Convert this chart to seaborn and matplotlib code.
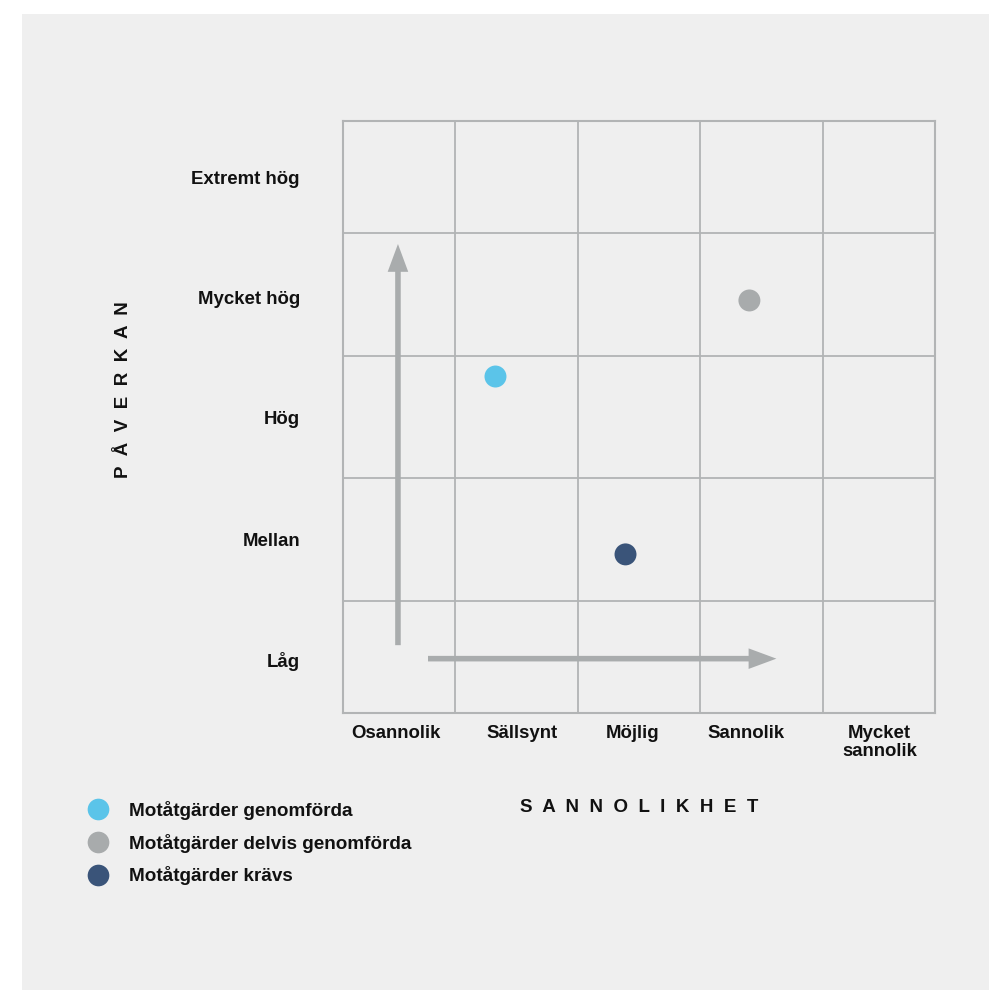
import matplotlib
matplotlib.use("Agg")
import matplotlib.pyplot as plt
from matplotlib.patches import Rectangle, FancyArrowPatch
from matplotlib.lines import Line2D
import seaborn as sns
import pandas as pd

# Risk matrix categories
likelihood = ["Osannolik", "Sällsynt", "Möjlig", "Sannolik", "Mycket\nsannolik"]
impact = ["Låg", "Mellan", "Hög", "Mycket hög", "Extremt hög"]

# Risks placed in the matrix (1 = lowest category)
risk_status = ["Motåtgärder genomförda", "Motåtgärder delvis genomförda", "Motåtgärder krävs"]
risk_likelihood = [1.83, 3.90, 2.89]
risk_impact = [3.33, 3.95, 1.88]
status_colors = ["#5bc4e9", "#a8abac", "#3a5479"]

# Where each category label sits along its axis
likelihood_label_pos = [1.02, 2.05, 2.95, 3.87, 4.96]
impact_label_pos = [1.025, 2.0, 3.0, 3.975, 4.95]

BG = "#efefef"
GRID = "#b2b4b5"
ARROW = "#a9acad"
INK = "#111111"
FS = 13.45

sns.set_theme(style="white")
plt.rcParams["font.family"] = ["Liberation Sans", "DejaVu Sans"]
plt.rcParams["font.weight"] = "bold"

W, H = 989, 990
fig = plt.figure(figsize=(W / 100, H / 100), dpi=100, facecolor="white")
fig.patches.append(Rectangle((22 / W, 0), 1, 1 - 14 / H, transform=fig.transFigure,
                             facecolor=BG, edgecolor="none", zorder=-10))

ax = fig.add_axes([343 / W, 1 - 713 / H, (935 - 343) / W, (713 - 121) / H])
ax.set_facecolor(BG)
ax.set_zorder(1)

df = pd.DataFrame({"x": risk_likelihood, "y": risk_impact, "status": risk_status})
sns.scatterplot(data=df, x="x", y="y", hue="status", palette=status_colors,
                hue_order=risk_status, s=250, linewidth=0, legend=False, ax=ax, zorder=5)

lo, hi = 0.587, 5.413
ax.set_xlim(lo, hi)
ax.set_ylim(lo, hi)

# Category labels on the majors, cell borders on the minors
ax.set_xticks(likelihood_label_pos)
ax.set_xticklabels(likelihood, fontsize=FS, fontweight="bold", color=INK,
                   linespacing=1.1)
ax.set_yticks(impact_label_pos)
ax.set_yticklabels(impact, fontsize=FS, fontweight="bold", color=INK)
ax.set_xticks([1.5, 2.5, 3.5, 4.5], minor=True)
ax.set_yticks([1.5, 2.5, 3.5, 4.5], minor=True)
ax.tick_params(which="both", length=0)
ax.tick_params(axis="x", which="major", pad=8.5)
ax.tick_params(axis="y", which="major", pad=31)
ax.grid(which="minor", color=GRID, linewidth=1.3)
ax.grid(which="major", visible=False)
for sp in ax.spines.values():
    sp.set_visible(True)
    sp.set_color(GRID)
    sp.set_linewidth(1.5)
ax.set_xlabel("")
ax.set_ylabel("")

# Direction arrows
arrow_kw = dict(arrowstyle="simple,head_length=20,head_width=14.8,tail_width=4.0",
                mutation_scale=1, color=ARROW, lw=0, shrinkA=0, shrinkB=0, zorder=3)
ax.add_patch(FancyArrowPatch((1.035, 1.14), (1.035, 4.41), **arrow_kw))
ax.add_patch(FancyArrowPatch((1.28, 1.03), (4.12, 1.03), **arrow_kw))

# Axis titles with wide letter spacing
fig.text(639 / W, 1 - 807 / H, "  ".join("SANNOLIKHET"), ha="center", va="center",
         fontsize=13.5, fontweight="bold", color=INK)
fig.text(123 / W, 1 - 390 / H, "  ".join("PÅVERKAN"), ha="center", va="center",
         rotation=90, fontsize=13.5, fontweight="bold", color=INK)

# Legend
handles = [Line2D([0], [0], marker="o", linestyle="none", markersize=15.6,
                  markerfacecolor=c, markeredgewidth=0) for c in status_colors]
fig.legend(handles, risk_status, loc="upper left",
           bbox_to_anchor=(86.9 / W, 1 - 801 / H), bbox_transform=fig.transFigure,
           frameon=False, borderpad=0, borderaxespad=0, handlelength=1.16,
           handletextpad=1.05, labelspacing=0.72, labelcolor=INK,
           prop={"size": 13.6, "weight": "bold"})

fig.savefig("out.png", dpi=100, facecolor="white")
